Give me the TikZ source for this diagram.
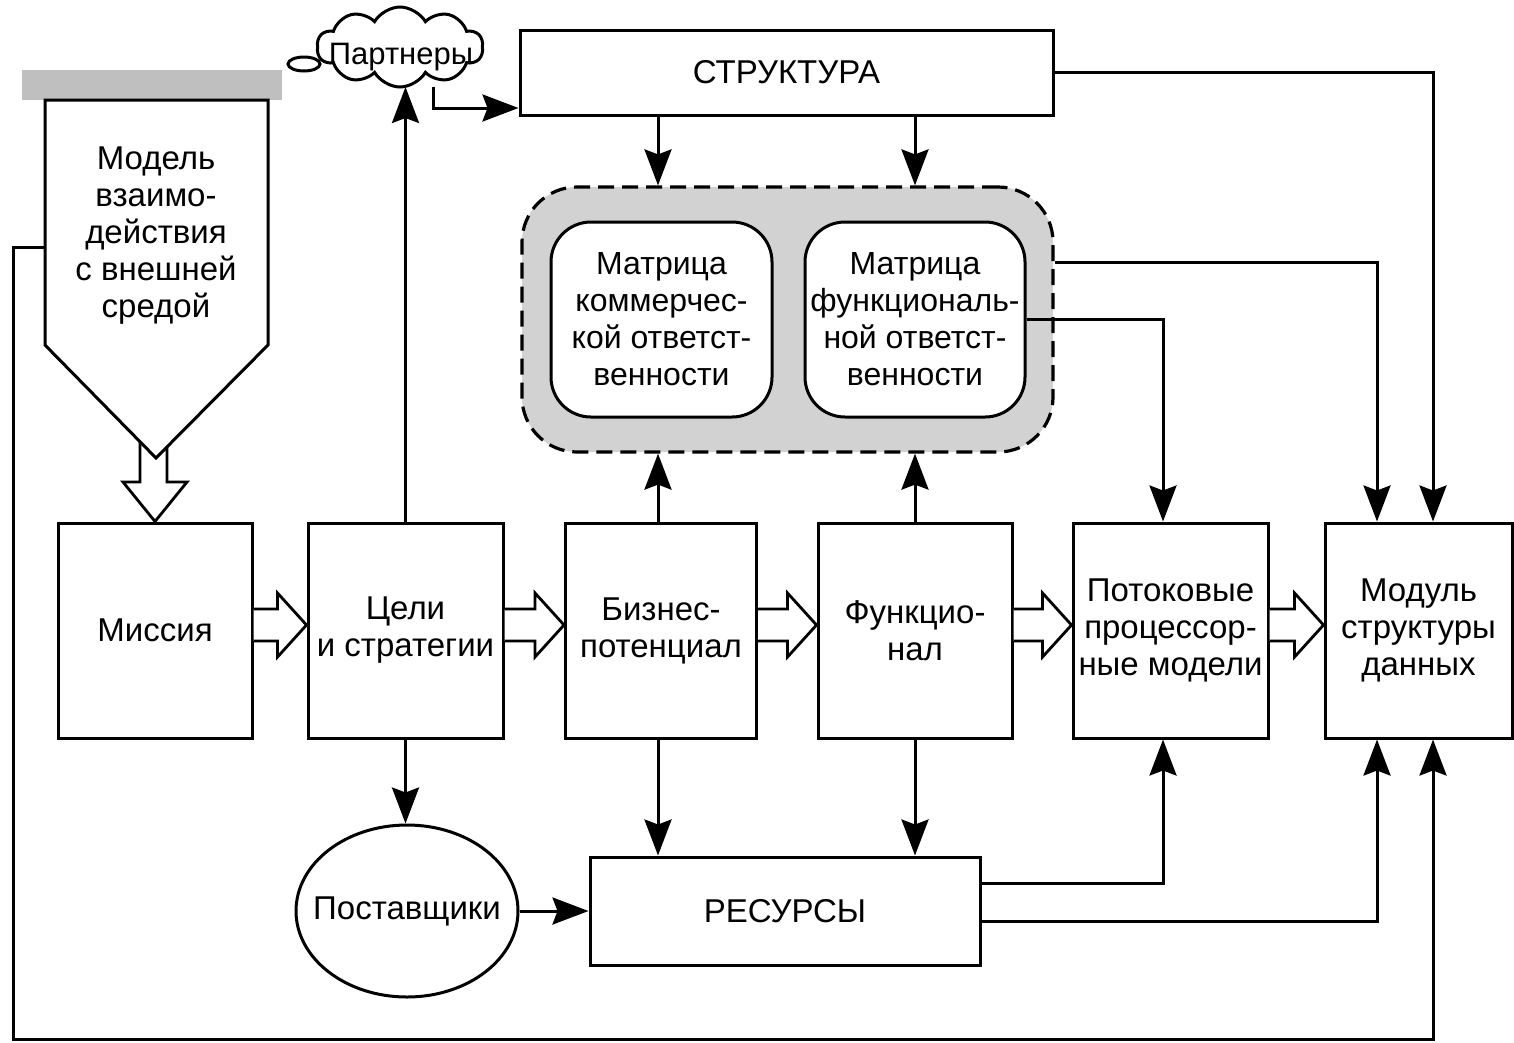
\documentclass[tikz,border=0pt]{standalone}
\usepackage{fontspec}
\setmainfont{Liberation Sans}
\usetikzlibrary{arrows.meta,shapes.symbols,shapes.geometric,calc}
\begin{document}
\begin{tikzpicture}[x=1pt,y=-1pt,
  every node/.style={font=\fontsize{33}{37}\selectfont, align=center},
  lw/.style={line width=3pt},
  box/.style={draw, line width=3pt, inner sep=0pt, fill=white},
  arr/.style={line width=3pt, -{Stealth[length=36pt,width=27pt,inset=5pt]}},
  blk/.style={line width=2.8pt, fill=white, line join=miter},
]
\useasboundingbox (0,0) rectangle (1514,1042);

% gray bar and pentagon
\fill[gray!50] (22,70) rectangle (282,100);
\draw[lw, fill=white, line join=miter] (45,100) -- (268,100) -- (268,345) -- (156,458) -- (45,345) -- cycle;
\node (model) at (156,236) {Модель\\взаимо-\\действия\\с внешней\\средой};
\coordinate (mdlw) at (45,247);

% main row
\node[box, minimum width=194pt, minimum height=215pt] (mis) at (155,630.5) {Миссия};
\node[box, minimum width=195pt, minimum height=215pt] (tsel) at (405.5,630.5) {Цели\\и стратегии};
\node[box, minimum width=191pt, minimum height=215pt] (biz) at (661,630.5) {Бизнес-\\потенциал};
\node[box, minimum width=194pt, minimum height=215pt] (func) at (915,630.5) {Функцио-\\нал};
\node[box, minimum width=195pt, minimum height=215pt] (pot) at (1170.5,630.5) {Потоковые\\процессор-\\ные модели};
\node[box, minimum width=187pt, minimum height=215pt] (mod) at (1418.5,630.5) {Модуль\\структуры\\данных};

% hollow arrow from pentagon to mission
\draw[blk, fill=none] (140,442) -- (140,482) -- (123,482) -- (mis.north) -- (187,482) -- (167,482) -- (167,447);

% hollow arrows between boxes
\foreach \a/\b in {mis/tsel, tsel/biz, biz/func, func/pot, pot/mod}{
  \draw[blk] (\a.east |- 0,609) -- ($(\b.west |- 0,609)+(-29,0)$) -- ($(\b.west |- 0,593)+(-29,0)$)
    -- (\b.west |- 0,625) -- ($(\b.west |- 0,657)+(-29,0)$) -- ($(\b.west |- 0,641)+(-29,0)$) -- (\a.east |- 0,641);
}

% structure box
\node[box, minimum width=533pt, minimum height=85pt] (struct) at (786.5,72.5) {СТРУКТУРА};

% dashed region with matrices
\node[draw, dash pattern=on 16pt off 8pt, line width=3.2pt, fill=gray!35, rounded corners=55pt,
      minimum width=531pt, minimum height=265pt, inner sep=0pt] (reg) at (787.5,319.5) {};
\node[box, rounded corners=40pt, minimum width=221pt, minimum height=195pt,
      font=\fontsize{32}{37}\selectfont] (matk) at (661.5,319.5)
  {Матрица\\коммерчес-\\кой ответст-\\венности};
\node[box, rounded corners=40pt, minimum width=220pt, minimum height=195pt,
      font=\fontsize{32}{37}\selectfont] (matf) at (915,319.5)
  {Матрица\\функциональ-\\ной ответст-\\венности};

% partners cloud
\draw[lw, fill=white] (304,64) ellipse [x radius=16, y radius=7];
\node[cloud, cloud puffs=10, cloud puff arc=120, aspect=2.1, draw, lw, fill=white,
      minimum width=166pt, minimum height=80pt, inner sep=0pt] (cld) at (400,47) {};
\node[font=\fontsize{31}{37}\selectfont] (partn) at (401,57) {Партнеры};

% suppliers and resources
\node[draw, lw, ellipse, minimum width=222pt, minimum height=172pt, inner sep=0pt] (post) at (407,911)
  {\makebox[0pt]{Поставщики}};
\node[box, minimum width=390pt, minimum height=108pt] (res) at (785,911) {РЕСУРСЫ};

% connectors
\draw[arr] (tsel.north) -- (tsel.north |- 0,87);
\draw[arr] (433,0 |- 0,87) |- (struct.west |- 0,108);
\draw[arr] (658,0 |- struct.south) -- (658,0 |- reg.north);
\draw[arr] (915,0 |- struct.south) -- (915,0 |- reg.north);
\draw[arr] (struct.east) -| (1433,0 |- mod.north);
\draw[arr] (reg.east |- 0,262) -| (1377,0 |- mod.north);
\draw[arr] (matf.east) -| (1163,0 |- pot.north);
\draw[arr] (658,0 |- biz.north) -- (658,0 |- reg.south);
\draw[arr] (func.north) -- (func.north |- reg.south);
\draw[arr] (tsel.south) -- (tsel.south |- post.north);
\draw[arr] (post.east) -- (res.west);
\draw[arr] (658,0 |- biz.south) -- (658,0 |- res.north);
\draw[arr] (func.south) -- (func.south |- res.north);
\draw[arr] (res.east |- 0,883) -| (1163,0 |- pot.south);
\draw[arr] (res.east |- 0,921) -| (1377,0 |- mod.south);
\coordinate (fb1) at (13,247);
\coordinate (fb2) at (13,1039);
\draw[arr, line join=miter] (mdlw) -- (fb1) -- (fb2) -| (1433,0 |- mod.south);
\end{tikzpicture}
\end{document}
